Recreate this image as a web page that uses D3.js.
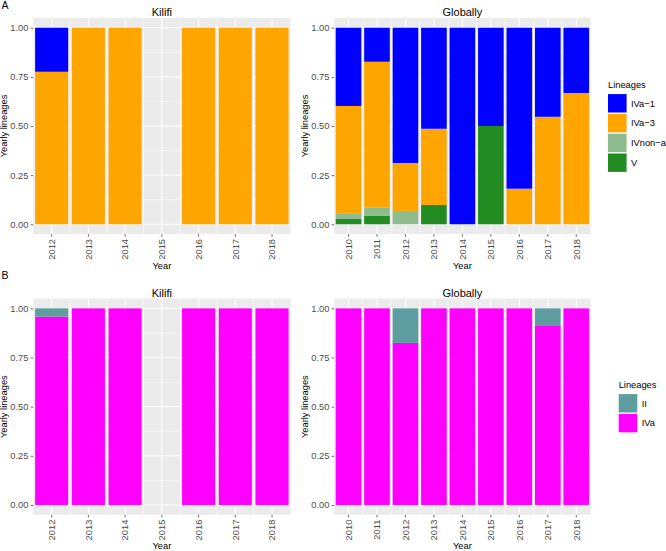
<!DOCTYPE html>
<html>
<head>
<meta charset="utf-8">
<script src="https://cdn.jsdelivr.net/npm/d3@7"></script>
<style>
  html, body { margin: 0; padding: 0; background: #fff; }
  svg { display: block; font-family: "Liberation Sans", Arial, Helvetica, sans-serif; }
</style>
</head>
<body>
<svg id="chart" width="666" height="551"></svg>
<script>
// ---------------- DATA ----------------
const kilifiYears = [2012, 2013, 2014, 2015, 2016, 2017, 2018];
const globalYears = [2010, 2011, 2012, 2013, 2014, 2015, 2016, 2017, 2018];

const lineagesA = ["IVa−1", "IVa−3", "IVnon−a", "V"];
const coloursA = ["#0000FF", "#FFA500", "#8FBC8F", "#228B22"];

const lineagesB = ["II", "IVa"];
const coloursB = ["#5F9EA0", "#FF00FF"];

// Panel A, Kilifi (2015: no samples)
const kilifiA_IVa1   = [0.224, 0, 0, 0, 0, 0, 0];
const kilifiA_IVa3   = [0.776, 1, 1, 0, 1, 1, 1];
const kilifiA_IVnona = [0, 0, 0, 0, 0, 0, 0];
const kilifiA_V      = [0, 0, 0, 0, 0, 0, 0];

// Panel A, Globally
const globalA_IVa1   = [0.398, 0.173, 0.688, 0.514, 1, 0.5, 0.819, 0.453, 0.332];
const globalA_IVa3   = [0.546, 0.742, 0.244, 0.388, 0, 0, 0.181, 0.547, 0.668];
const globalA_IVnona = [0.029, 0.041, 0.068, 0, 0, 0, 0, 0, 0];
const globalA_V      = [0.027, 0.044, 0, 0.098, 0, 0.5, 0, 0, 0];

// Panel B, Kilifi
const kilifiB_II  = [0.042, 0, 0, 0, 0, 0, 0];
const kilifiB_IVa = [0.958, 1, 1, 0, 1, 1, 1];

// Panel B, Globally
const globalB_II  = [0, 0, 0.176, 0, 0, 0, 0, 0.09, 0];
const globalB_IVa = [1, 1, 0.824, 1, 1, 1, 1, 0.91, 1];

const yTicks = [0, 0.25, 0.5, 0.75, 1];

// ---------------- DRAWING ----------------
const svg = d3.select("#chart");
const FONT = 9.3;

function drawPanel(box, years, keys, colours, seriesArrays, title) {
  const g = svg.append("g");
  const x = d3.scaleBand().domain(years).range([box.left, box.right])
    .paddingInner(0.1).paddingOuter(0.05);
  const y = d3.scaleLinear().domain([-0.05, 1.05]).range([box.bottom, box.top]);
  const step = x.step();
  const bw = x.bandwidth();

  // panel background
  g.append("rect").attr("x", box.left).attr("y", box.top)
    .attr("width", box.right - box.left).attr("height", box.bottom - box.top)
    .attr("fill", "#EBEBEB");

  // minor grid
  const minorY = d3.range(0, 4).map(i => 0.125 + i * 0.25);
  g.selectAll(".minY").data(minorY).join("line")
    .attr("x1", box.left).attr("x2", box.right)
    .attr("y1", d => y(d)).attr("y2", d => y(d))
    .attr("stroke", "#fff").attr("stroke-width", 0.5);
  g.selectAll(".minX").data(years.slice(1)).join("line")
    .attr("x1", d => x(d) + bw / 2 - step / 2).attr("x2", d => x(d) + bw / 2 - step / 2)
    .attr("y1", box.top).attr("y2", box.bottom)
    .attr("stroke", "#fff").attr("stroke-width", 0.5);
  // major grid
  g.selectAll(".majY").data(yTicks).join("line")
    .attr("x1", box.left).attr("x2", box.right)
    .attr("y1", d => y(d)).attr("y2", d => y(d))
    .attr("stroke", "#fff").attr("stroke-width", 1);
  g.selectAll(".majX").data(years).join("line")
    .attr("x1", d => x(d) + bw / 2).attr("x2", d => x(d) + bw / 2)
    .attr("y1", box.top).attr("y2", box.bottom)
    .attr("stroke", "#fff").attr("stroke-width", 1);

  // stacked bars: last key at the bottom
  const rows = years.map((yr, i) => {
    const r = { year: yr };
    keys.forEach((k, j) => { r[k] = seriesArrays[j][i]; });
    return r;
  });
  const stackKeys = keys.slice().reverse();
  const stacked = d3.stack().keys(stackKeys)(rows);
  stacked.forEach(layer => {
    const col = colours[keys.indexOf(layer.key)];
    g.selectAll(null).data(layer.filter(d => d[1] - d[0] > 0)).join("rect")
      .attr("x", d => x(d.data.year))
      .attr("width", bw)
      .attr("y", d => y(d[1]))
      .attr("height", d => y(d[0]) - y(d[1]))
      .attr("fill", col);
  });

  // y axis
  const yAxis = d3.axisLeft(y).tickValues(yTicks).tickFormat(d3.format(".2f"))
    .tickSize(2.7).tickPadding(2.2);
  const ya = g.append("g").attr("transform", `translate(${box.left},0)`).call(yAxis);
  ya.select(".domain").remove();
  ya.selectAll(".tick line").attr("stroke", "#333").attr("stroke-width", 0.7);
  ya.selectAll(".tick text").attr("fill", "#4D4D4D").attr("font-size", FONT)
    .attr("font-family", null);

  // x axis
  const xAxis = d3.axisBottom(x).tickSize(2.7).tickPadding(2.2);
  const xa = g.append("g").attr("transform", `translate(0,${box.bottom})`).call(xAxis);
  xa.select(".domain").remove();
  xa.selectAll(".tick line").attr("stroke", "#333").attr("stroke-width", 0.7);
  xa.selectAll(".tick text").attr("fill", "#4D4D4D").attr("font-size", FONT)
    .attr("font-family", null)
    .attr("transform", "rotate(-90)")
    .attr("text-anchor", "end")
    .attr("x", -4.9).attr("y", 0).attr("dy", "0.35em");

  // titles
  const cx = (box.left + box.right) / 2;
  g.append("text").attr("x", cx).attr("y", box.top - 2).attr("text-anchor", "middle")
    .attr("font-size", 11).attr("fill", "#000").text(title);
  g.append("text").attr("x", cx).attr("y", box.bottom + 34.6).attr("text-anchor", "middle")
    .attr("font-size", FONT).attr("fill", "#000").text("Year");
  g.append("text")
    .attr("transform", `translate(${box.left - 26},${(box.top + box.bottom) / 2}) rotate(-90)`)
    .attr("text-anchor", "middle").attr("font-size", FONT).attr("fill", "#000")
    .text("Yearly lineages");
}

function drawLegend(lx, ly, keys, colours) {
  const g = svg.append("g");
  g.append("text").attr("x", lx).attr("y", ly).attr("font-size", FONT).attr("fill", "#000")
    .text("Lineages");
  const stepL = 19.8;
  const items = g.selectAll(".it").data(keys).join("g")
    .attr("transform", (d, i) => `translate(${lx},${ly + 5.8 + i * stepL})`);
  items.append("rect").attr("width", 18.6).attr("height", 18.4)
    .attr("fill", (d, i) => colours[i]);
  items.append("text").attr("x", 23).attr("y", 9.2).attr("dy", "0.35em")
    .attr("font-size", FONT).attr("fill", "#000").text(d => d);
}

const xLeft = { left: 33.3, right: 290.4 };
const xRight = { left: 334.3, right: 590.5 };
const yA = { top: 17.9, bottom: 234.1 };
const yB = { top: 298.5, bottom: 514.8 };

drawPanel({ ...xLeft, ...yA }, kilifiYears, lineagesA, coloursA,
  [kilifiA_IVa1, kilifiA_IVa3, kilifiA_IVnona, kilifiA_V], "Kilifi");
drawPanel({ ...xRight, ...yA }, globalYears, lineagesA, coloursA,
  [globalA_IVa1, globalA_IVa3, globalA_IVnona, globalA_V], "Globally");
drawPanel({ ...xLeft, ...yB }, kilifiYears, lineagesB, coloursB,
  [kilifiB_II, kilifiB_IVa], "Kilifi");
drawPanel({ ...xRight, ...yB }, globalYears, lineagesB, coloursB,
  [globalB_II, globalB_IVa], "Globally");

drawLegend(608, 88.3, lineagesA, coloursA);
drawLegend(618.7, 388.3, lineagesB, coloursB);

// panel tags
svg.append("text").attr("x", 1.5).attr("y", 8.5).attr("font-size", 10.5).attr("fill", "#000").text("A");
svg.append("text").attr("x", 1.5).attr("y", 278.5).attr("font-size", 10.5).attr("fill", "#000").text("B");
</script>
</body>
</html>
